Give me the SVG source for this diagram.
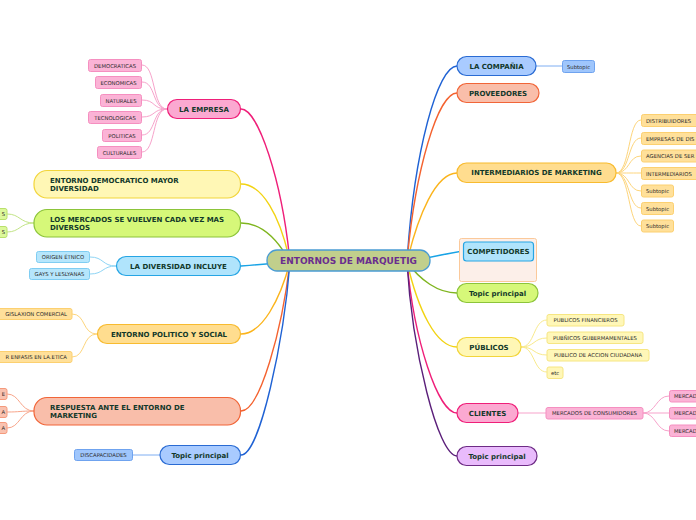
<svg xmlns="http://www.w3.org/2000/svg" width="696" height="520" viewBox="0 0 696 520">
<style>
.t{font-family:"DejaVu Sans",Verdana,sans-serif;font-weight:bold;font-size:7px;fill:#12382a}
.s{font-family:"DejaVu Sans",Verdana,sans-serif;font-size:5.3px;fill:#2a2a2a}
.m{text-anchor:middle}
.c{fill:none;stroke-width:1.4}
.sc{fill:none;stroke-width:1}
.pink{fill:#fba9d1;stroke:#ef1f79;stroke-width:1.2}
.pinks{fill:#fbb3d6;stroke:#f58fc0;stroke-width:1}
.yel{fill:#fff7b5;stroke:#f2d53b;stroke-width:1.2}
.yels{fill:#fff7b8;stroke:#f6e682;stroke-width:1}
.grn{fill:#d6f879;stroke:#8cc43a;stroke-width:1.2}
.grns{fill:#dcf89a;stroke:#b9e06c;stroke-width:1}
.lb{fill:#b0e4fc;stroke:#26a5e4;stroke-width:1.2}
.lbs{fill:#b6e6fc;stroke:#7fcdf2;stroke-width:1}
.org{fill:#ffdd8f;stroke:#f8bb2f;stroke-width:1.2}
.orgs{fill:#ffe09a;stroke:#fcd070;stroke-width:1}
.sal{fill:#f9beaa;stroke:#f16538;stroke-width:1.2}
.sals{fill:#f9c2b0;stroke:#f59a7c;stroke-width:1}
.blu{fill:#a9cbff;stroke:#2a6bd3;stroke-width:1.2}
.blus{fill:#9fc6fc;stroke:#6fa3ef;stroke-width:1}
.pur{fill:#e9bbfc;stroke:#6d2b85;stroke-width:1.2}
</style>
<g id="connectors">
<path class="c" stroke="#ef1f79" d="M241 109 C258 109 282 180 290 262"/>
<path class="c" stroke="#f2d312" d="M241 184 C262 184 280 215 290 262"/>
<path class="c" stroke="#7fb51f" d="M241 223 C262 223 278 240 290 262"/>
<path class="c" stroke="#18a3e6" d="M241 266 C255 265 265 264 290 262"/>
<path class="c" stroke="#fbb41c" d="M241 334 C262 334 280 300 290 262"/>
<path class="c" stroke="#f4622f" d="M241 411 C260 411 282 330 290 262"/>
<path class="c" stroke="#1f62d4" d="M241 455 C260 455 284 340 290 262"/>
<path class="c" stroke="#1f62d4" d="M457 66 C438 66 414 150 407 262"/>
<path class="c" stroke="#f4622f" d="M457 93 C438 93 415 170 407 262"/>
<path class="c" stroke="#fbb41c" d="M457 173 C436 173 418 215 407 262"/>
<path class="c" stroke="#18a3e6" d="M463 251 C450 253 440 255 407 262"/>
<path class="c" stroke="#7fb51f" d="M457 293 C438 293 420 280 407 262"/>
<path class="c" stroke="#f2d312" d="M457 347 C436 347 418 310 407 262"/>
<path class="c" stroke="#ef1f79" d="M457 413 C438 413 414 340 407 262"/>
<path class="c" stroke="#5b1f7a" d="M457 456 C438 456 412 350 407 262"/>
<g stroke="#f7a3cb">
<path class="sc" d="M167 109 C152 109 156 65 142 65"/>
<path class="sc" d="M167 109 C152 109 156 82 142 82"/>
<path class="sc" d="M167 109 C152 109 156 100 142 100"/>
<path class="sc" d="M167 109 C152 109 156 117 142 117"/>
<path class="sc" d="M167 109 C152 109 156 135 142 135"/>
<path class="sc" d="M167 109 C152 109 156 152 142 152"/>
</g>
<g stroke="#c2e486">
<path class="sc" d="M34 223 C20 223 20 214 7 214"/>
<path class="sc" d="M34 223 C20 223 20 232 7 232"/>
</g>
<g stroke="#8fd5f5">
<path class="sc" d="M116 266 C102 266 104 257 90 257"/>
<path class="sc" d="M116 266 C102 266 104 274 90 274"/>
</g>
<g stroke="#fdd57c">
<path class="sc" d="M97 334 C82 334 86 314 72 314"/>
<path class="sc" d="M97 334 C82 334 86 357 72 357"/>
</g>
<g stroke="#f8a58a">
<path class="sc" d="M34 411 C20 411 20 394 7 394"/>
<path class="sc" d="M34 411 C20 411 20 412 7 412"/>
<path class="sc" d="M34 411 C20 411 20 428 7 428"/>
</g>
<path class="sc" stroke="#7eaef2" d="M160 455 L133 455"/>
<path class="sc" stroke="#7eaef2" d="M536 66 L562 66"/>
<g stroke="#fdd57c">
<path class="sc" d="M616 173 C630 173 628 120 641 120"/>
<path class="sc" d="M616 173 C630 173 628 138 641 138"/>
<path class="sc" d="M616 173 C630 173 628 156 641 156"/>
<path class="sc" d="M616 173 C630 173 628 173 641 173"/>
<path class="sc" d="M616 173 C630 173 628 191 641 191"/>
<path class="sc" d="M616 173 C630 173 628 208 641 208"/>
<path class="sc" d="M616 173 C630 173 628 226 641 226"/>
</g>
<g stroke="#f9ea8c">
<path class="sc" d="M521 347 C535 347 533 320 547 320"/>
<path class="sc" d="M521 347 C535 347 533 338 547 338"/>
<path class="sc" d="M521 347 C535 347 533 355 547 355"/>
<path class="sc" d="M521 347 C535 347 533 372 547 372"/>
</g>
<path class="sc" stroke="#f7a3cb" d="M518 413 L546 413"/>
<g stroke="#f7a3cb">
<path class="sc" d="M643 413 C656 413 656 396 669 396"/>
<path class="sc" d="M643 413 L669 413"/>
<path class="sc" d="M643 413 C656 413 656 431 669 431"/>
</g>
</g>
<g id="center">
<rect x="267" y="250" width="163" height="21" rx="10" fill="#c1cf8c" stroke="#4a9cd3" stroke-width="1.3"/>
<text x="348.5" y="264.2" class="m" style="font-family:'DejaVu Sans',Verdana,sans-serif;font-weight:bold;font-size:9px;fill:#6a2d8f">ENTORNOS DE MARQUETIG</text>
</g>
<g id="la-empresa">
<rect class="pink" x="167.5" y="99.5" width="73" height="19" rx="9.5"/>
<text class="t m" x="204" y="111.5">LA EMPRESA</text>
<rect class="pinks" x="88.5" y="59.5" width="53" height="12" rx="2"/><text class="s m" x="115" y="67.5">DEMOCRATICAS</text>
<rect class="pinks" x="95.5" y="76.5" width="46" height="12" rx="2"/><text class="s m" x="118.5" y="84.5">ECONOMICAS</text>
<rect class="pinks" x="100.5" y="94.5" width="41" height="12" rx="2"/><text class="s m" x="121" y="102.5">NATURALES</text>
<rect class="pinks" x="88.5" y="111.5" width="53" height="12" rx="2"/><text class="s m" x="115" y="119.5">TECNOLOGICAS</text>
<rect class="pinks" x="102.5" y="129.5" width="39" height="12" rx="2"/><text class="s m" x="122" y="137.5">POLITICAS</text>
<rect class="pinks" x="97.5" y="146.5" width="44" height="12" rx="2"/><text class="s m" x="119.5" y="154.5">CULTURALES</text>
</g>
<g id="entorno-democratico">
<rect class="yel" x="34" y="170.5" width="206.5" height="27.5" rx="13"/>
<text class="t" x="50" y="182.5">ENTORNO DEMOCRATICO MAYOR</text>
<text class="t" x="50" y="191">DIVERSIDAD</text>
</g>
<g id="los-mercados">
<rect class="grn" x="34" y="209.5" width="206.5" height="27.5" rx="13"/>
<text class="t" x="50" y="221.5">LOS MERCADOS SE VUELVEN CADA VEZ MAS</text>
<text class="t" x="50" y="230">DIVERSOS</text>
<rect class="grns" x="-20" y="208.5" width="27" height="11" rx="2"/><text class="s" x="5" y="216" text-anchor="end">S</text>
<rect class="grns" x="-20" y="226.5" width="27" height="11" rx="2"/><text class="s" x="5" y="234" text-anchor="end">S</text>
</g>
<g id="la-diversidad">
<rect class="lb" x="116.5" y="256.5" width="124" height="19" rx="9.5"/>
<text class="t m" x="178.5" y="268.5">LA DIVERSIDAD INCLUYE</text>
<rect class="lbs" x="36.5" y="251.5" width="53" height="11" rx="2"/><text class="s m" x="63" y="259">ORIGEN ÉTNICO</text>
<rect class="lbs" x="29.5" y="268.5" width="60" height="11" rx="2"/><text class="s m" x="59.5" y="276">GAYS Y LESLYANAS</text>
</g>
<g id="entorno-politico">
<rect class="org" x="97.5" y="324.5" width="143" height="19" rx="9.5"/>
<text class="t m" x="169" y="336.5">ENTORNO POLITICO Y SOCIAL</text>
<rect class="orgs" x="-20" y="308.5" width="92" height="11" rx="2"/><text class="s" x="67" y="316" text-anchor="end">GISLAXION COMERCIAL</text>
<rect class="orgs" x="-20" y="351.5" width="92" height="11" rx="2"/><text class="s" x="67" y="359" text-anchor="end">R ENFASIS EN LA.ETICA</text>
</g>
<g id="respuesta">
<rect class="sal" x="34" y="397.5" width="206.5" height="27.5" rx="13"/>
<text class="t" x="50" y="409.5">RESPUESTA ANTE EL ENTORNO DE</text>
<text class="t" x="50" y="418">MARKETING</text>
<rect class="sals" x="-20" y="388.5" width="27" height="11" rx="2"/><text class="s" x="5" y="396" text-anchor="end">E</text>
<rect class="sals" x="-20" y="406.5" width="27" height="11" rx="2"/><text class="s" x="5" y="414" text-anchor="end">A</text>
<rect class="sals" x="-20" y="422.5" width="27" height="11" rx="2"/><text class="s" x="5" y="430" text-anchor="end">A</text>
</g>
<g id="topic-blue">
<rect class="blu" x="160" y="445.5" width="80.5" height="19" rx="9.5"/>
<text class="t m" x="200" y="457.5">Topic principal</text>
<rect class="blus" x="74.5" y="449.5" width="58" height="11" rx="2"/><text class="s m" x="103.5" y="457">DISCAPACIDADES</text>
</g>
<g id="la-compania">
<rect class="blu" x="457" y="56.5" width="79" height="19" rx="9.5"/>
<text class="t m" x="496.5" y="68.5">LA COMPAÑIA</text>
<rect class="blus" x="562.5" y="60.5" width="32" height="12" rx="2"/><text class="s m" x="578.5" y="68.5">Subtopic</text>
</g>
<g id="proveedores">
<rect class="sal" x="457" y="83.5" width="82" height="19" rx="9.5"/>
<text class="t m" x="498" y="95.5">PROVEEDORES</text>
</g>
<g id="intermediarios">
<rect class="org" x="457" y="163" width="159" height="19.5" rx="9.5"/>
<text class="t m" x="536.5" y="175.3">INTERMEDIARIOS DE MARKETING</text>
<rect class="orgs" x="641.5" y="114.5" width="70" height="12" rx="2"/><text class="s" x="646" y="122.5">DISTRIBUIDORES</text>
<rect class="orgs" x="641.5" y="132.5" width="70" height="12" rx="2"/><text class="s" x="646" y="140.5">EMPRESAS DE DIS</text>
<rect class="orgs" x="641.5" y="150" width="70" height="12" rx="2"/><text class="s" x="646" y="158">AGENCIAS DE SER</text>
<rect class="orgs" x="641.5" y="167.5" width="70" height="12" rx="2"/><text class="s" x="646" y="175.5">INTERMEDIARIOS</text>
<rect class="orgs" x="641.5" y="185" width="32" height="12" rx="2"/><text class="s m" x="657.5" y="193">Subtopic</text>
<rect class="orgs" x="641.5" y="202.5" width="32" height="12" rx="2"/><text class="s m" x="657.5" y="210.5">Subtopic</text>
<rect class="orgs" x="641.5" y="220" width="32" height="12" rx="2"/><text class="s m" x="657.5" y="228">Subtopic</text>
</g>
<g id="competidores">
<rect x="459.5" y="238.5" width="77" height="43" rx="2" fill="#fcefe9" stroke="#fbc99a" stroke-width="1"/>
<rect class="lb" x="463.5" y="242" width="70" height="19" rx="3"/>
<text class="t m" x="498.5" y="254">COMPETIDORES</text>
</g>
<g id="topic-green">
<rect class="grn" x="457" y="283.5" width="81" height="19" rx="9.5"/>
<text class="t m" x="497.5" y="295.5">Topic principal</text>
</g>
<g id="publicos">
<rect class="yel" x="457" y="337.5" width="64" height="19" rx="9.5"/>
<text class="t m" x="489" y="349.5">PÚBLICOS</text>
<rect class="yels" x="547" y="314.5" width="77" height="11.5" rx="2"/><text class="s m" x="585.5" y="322.3">PUBLICOS FINANCIEROS</text>
<rect class="yels" x="547" y="332" width="96" height="11.5" rx="2"/><text class="s m" x="595" y="339.8">PUBÑICOS GUBERMAMENTALES</text>
<rect class="yels" x="547" y="349.5" width="102" height="11.5" rx="2"/><text class="s m" x="598" y="357.3">PUBLICO DE ACCION CIUDADANA</text>
<rect class="yels" x="547" y="367" width="16" height="11.5" rx="2"/><text class="s m" x="555" y="374.8">etc</text>
</g>
<g id="clientes">
<rect class="pink" x="457" y="403.5" width="61" height="19" rx="9.5"/>
<text class="t m" x="487.5" y="415.5">CLIENTES</text>
<rect class="pinks" x="546" y="407.5" width="97" height="11.5" rx="2"/><text class="s m" x="594.5" y="415.3">MERCADOS DE CONSUMIDORES</text>
<rect class="pinks" x="669.5" y="390.5" width="40" height="11.5" rx="2"/><text class="s" x="674" y="398.3">MERCAD</text>
<rect class="pinks" x="669.5" y="407.5" width="40" height="11.5" rx="2"/><text class="s" x="674" y="415.3">MERCAD</text>
<rect class="pinks" x="669.5" y="425" width="40" height="11.5" rx="2"/><text class="s" x="674" y="432.8">MERCAD</text>
</g>
<g id="topic-purple">
<rect class="pur" x="457" y="446.5" width="80" height="19" rx="9.5"/>
<text class="t m" x="497" y="458.5">Topic principal</text>
</g>
</svg>
